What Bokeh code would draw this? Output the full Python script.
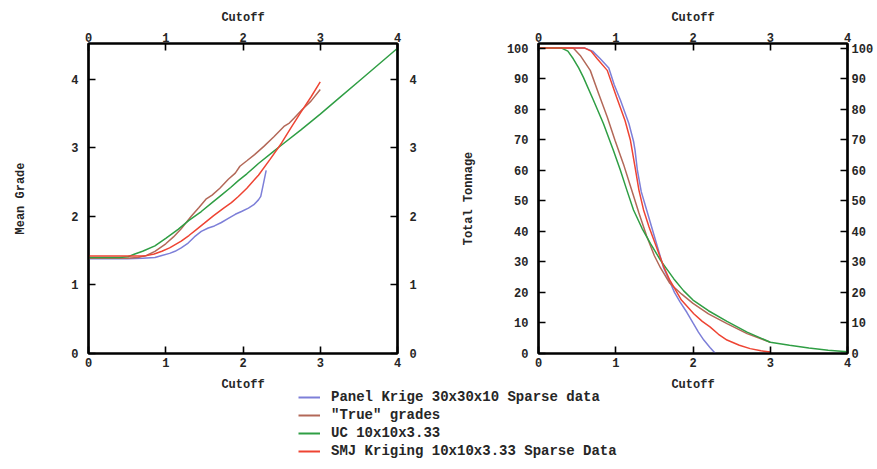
from bokeh.plotting import figure
from bokeh.models import LinearAxis, FixedTicker, Range1d, Legend, LegendItem
from bokeh.layouts import column, row
from bokeh.embed import file_html
from bokeh.resources import INLINE

# ---------------- data ----------------
series_names = ["Panel Krige 30x30x10 Sparse data", "\"True\" grades",
                "UC 10x10x3.33", "SMJ Kriging 10x10x3.33 Sparse Data"]
series_colors = ["#7d7fd8", "#b36858", "#2f9e44", "#ee4433"]

# Mean grade vs cutoff
mg_panel_x = [0, 0.5, 0.7, 0.86, 0.95, 1.05, 1.12, 1.2, 1.29, 1.37, 1.46, 1.55, 1.63, 1.72, 1.81, 1.9, 1.98, 2.07, 2.14, 2.2, 2.23, 2.26, 2.3]
mg_panel_y = [1.38, 1.38, 1.39, 1.40, 1.43, 1.46, 1.49, 1.54, 1.61, 1.70, 1.78, 1.83, 1.86, 1.91, 1.97, 2.03, 2.07, 2.12, 2.17, 2.24, 2.29, 2.45, 2.67]
mg_true_x = [0, 0.5, 0.64, 0.75, 0.86, 1.0, 1.1, 1.2, 1.33, 1.43, 1.52, 1.6, 1.7, 1.81, 1.9, 1.96, 2.05, 2.15, 2.27, 2.4, 2.53, 2.6, 2.66, 2.76, 2.88, 3.0]
mg_true_y = [1.39, 1.39, 1.40, 1.43, 1.49, 1.60, 1.70, 1.82, 2.0, 2.13, 2.25, 2.31, 2.41, 2.54, 2.63, 2.73, 2.81, 2.90, 3.02, 3.16, 3.31, 3.36, 3.43, 3.55, 3.68, 3.85]
mg_uc_x = [0, 0.4, 0.51, 0.6, 0.7, 0.86, 1.0, 1.16, 1.3, 1.46, 1.6, 1.72, 1.84, 1.94, 2.05, 2.2, 2.4, 2.5, 2.75, 3.0, 3.25, 3.5, 3.75, 4.0]
mg_uc_y = [1.40, 1.40, 1.41, 1.45, 1.49, 1.57, 1.68, 1.81, 1.94, 2.07, 2.20, 2.31, 2.42, 2.52, 2.62, 2.77, 2.95, 3.04, 3.26, 3.49, 3.73, 3.97, 4.21, 4.45]
mg_smj_x = [0, 0.5, 0.72, 0.85, 0.95, 1.05, 1.2, 1.3, 1.4, 1.5, 1.62, 1.75, 1.85, 1.94, 2.05, 2.2, 2.35, 2.5, 2.62, 2.75, 2.88, 3.0]
mg_smj_y = [1.42, 1.42, 1.42, 1.45, 1.49, 1.54, 1.64, 1.72, 1.81, 1.90, 2.01, 2.12, 2.20, 2.29, 2.41, 2.60, 2.83, 3.07, 3.29, 3.52, 3.74, 3.96]

# Total tonnage vs cutoff
tt_panel_x = [0, 0.6, 0.7, 0.8, 0.91, 0.98, 1.06, 1.17, 1.23, 1.25, 1.28, 1.33, 1.4, 1.51, 1.62, 1.7, 1.76, 1.83, 1.92, 2.0, 2.07, 2.14, 2.22, 2.29]
tt_panel_y = [100, 100, 99, 96.5, 93.5, 88, 83, 75.3, 69.5, 66.5, 60, 53, 47, 37.5, 28, 23.5, 20, 17, 13.5, 10, 7, 4.4, 2, 0]
tt_true_x = [0, 0.45, 0.54, 0.67, 0.78, 0.89, 0.99, 1.10, 1.2, 1.3, 1.4, 1.5, 1.58, 1.7, 1.85, 2.0, 2.2, 2.44, 2.7, 3.0]
tt_true_y = [100, 100, 97.6, 92.7, 85, 77.4, 69.8, 62, 54, 46, 38.5, 32, 28, 23, 19.5, 16.4, 13, 9.8, 6.5, 3.7]
tt_uc_x = [0, 0.3, 0.38, 0.45, 0.52, 0.58, 0.71, 0.84, 0.97, 1.06, 1.15, 1.23, 1.34, 1.45, 1.58, 1.75, 1.88, 2.0, 2.2, 2.44, 2.7, 3.0, 3.25, 3.5, 3.75, 4.0]
tt_uc_y = [100, 100, 99, 96.5, 93.5, 90.5, 83, 75.3, 66.5, 60, 53, 47, 41, 36, 30.5, 24.5, 20.5, 17.5, 14, 10.5, 7, 3.7, 2.7, 1.8, 1.1, 0.6]
tt_smj_x = [0, 0.6, 0.68, 0.76, 0.89, 1.01, 1.12, 1.19, 1.25, 1.3, 1.36, 1.43, 1.51, 1.62, 1.7, 1.85, 2.01, 2.12, 2.22, 2.33, 2.44, 2.6, 2.74, 2.88, 3.0]
tt_smj_y = [100, 100, 99, 96.5, 92.7, 84, 76.3, 69.8, 61, 53.5, 47, 41.5, 36, 28.5, 24, 17.5, 13, 10.5, 8.7, 6.3, 4.4, 2.7, 1.6, 0.9, 0.5]

x_ticks = [0, 1, 2, 3, 4]
mg_ticks = [0, 1, 2, 3, 4]
tt_ticks = [0, 10, 20, 30, 40, 50, 60, 70, 80, 90, 100]

FONT = "Liberation Mono"
TXT = "#262626"


def style_axis(ax, ticks, standoff, label=None, label_standoff=0):
    ax.ticker = FixedTicker(ticks=ticks)
    ax.major_tick_in = 7
    ax.major_tick_out = 0
    ax.minor_tick_in = 0
    ax.minor_tick_out = 0
    ax.axis_line_width = 2.2
    ax.axis_line_color = "black"
    ax.major_tick_line_width = 1.6
    ax.major_tick_line_color = "black"
    ax.major_label_text_font = FONT
    ax.major_label_text_font_size = "12px"
    ax.major_label_text_font_style = "bold"
    ax.major_label_text_color = TXT
    ax.major_label_standoff = standoff
    if label:
        ax.axis_label = label
        ax.axis_label_text_font = FONT
        ax.axis_label_text_font_size = "12px"
        ax.axis_label_text_font_style = "bold"
        ax.axis_label_text_color = TXT
        ax.axis_label_standoff = label_standoff


def make_fig(width, ymax, yticks, ylabel, left_b, right_b, left_label_standoff, right_standoff):
    p = figure(width=width, height=394, output_backend="svg", toolbar_location=None,
               x_range=Range1d(0, 4), y_range=Range1d(0, ymax),
               min_border_left=left_b, min_border_right=right_b,
               min_border_top=43, min_border_bottom=40)
    p.grid.visible = False
    p.outline_line_color = "black"
    p.outline_line_width = 2.2
    p.background_fill_color = "white"
    p.border_fill_color = "white"
    style_axis(p.xaxis[0], x_ticks, 4, "Cutoff", 8)
    style_axis(p.yaxis[0], yticks, 10, ylabel, left_label_standoff)
    top = LinearAxis()
    style_axis(top, x_ticks, 2, "Cutoff", 5)
    p.add_layout(top, "above")
    right = LinearAxis()
    style_axis(right, yticks, right_standoff)
    p.add_layout(right, "right")
    return p


p1 = make_fig(453, 4.52, mg_ticks, "Mean Grade", 88, 56, 40, 12)
p2 = make_fig(424, 101.5, tt_ticks, "Total Tonnage", 85, 30, 28, 4)

mg = [(mg_panel_x, mg_panel_y), (mg_true_x, mg_true_y), (mg_uc_x, mg_uc_y), (mg_smj_x, mg_smj_y)]
tt = [(tt_panel_x, tt_panel_y), (tt_true_x, tt_true_y), (tt_uc_x, tt_uc_y), (tt_smj_x, tt_smj_y)]
for (x, y), c in zip(mg, series_colors):
    p1.line(x, y, line_color=c, line_width=1.5)
for (x, y), c in zip(tt, series_colors):
    p2.line(x, y, line_color=c, line_width=1.5)

# legend panel (transparent, slightly overlapping the charts' bottom margin)
nan = float("nan")
p3 = figure(width=877, height=87, output_backend="svg", toolbar_location=None,
            x_range=Range1d(0, 1), y_range=Range1d(0, 1), min_border=0)
p3.axis.visible = False
p3.grid.visible = False
p3.outline_line_color = None
p3.background_fill_alpha = 0
p3.border_fill_alpha = 0
p3.styles = {"margin-top": "-12px"}
items = []
for name, c in zip(series_names, series_colors):
    r = p3.line(x=[nan, nan], y=[nan, nan], line_color=c, line_width=2)
    items.append(LegendItem(label=name, renderers=[r]))
leg = Legend(items=items, location=(298, 10), padding=0, margin=0,
             border_line_color=None, background_fill_alpha=0,
             glyph_width=22, glyph_height=14, label_height=14, spacing=2,
             label_standoff=11, label_text_font=FONT, label_text_font_size="14px",
             label_text_font_style="bold", label_text_color=TXT)
p3.add_layout(leg, "center")

layout = column(row(p1, p2), p3)
open("out.html", "w").write(file_html(layout, INLINE))
